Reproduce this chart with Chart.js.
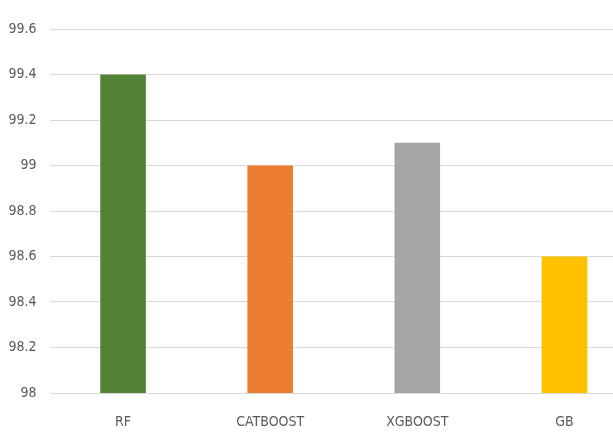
<!DOCTYPE html>
<html>
<head>
<meta charset="utf-8">
<script src="https://cdn.jsdelivr.net/npm/chart.js@4/dist/chart.umd.min.js"></script>
<style>
  html, body { margin: 0; padding: 0; background: #fff; overflow: hidden; }
  #wrap { width: 638px; height: 433px; }
</style>
</head>
<body>
<div id="wrap"><canvas id="accChart" width="638" height="433"></canvas></div>
<script>
// Data
const models = ['RF', 'CATBOOST', 'XGBOOST', 'GB'];
const accuracy = [99.4, 99.0, 99.1, 98.6];
const barColors = ['#548235', '#ED7D31', '#A5A5A5', '#FFC000'];
const yTickLabels = ['98', '98.2', '98.4', '98.6', '98.8', '99', '99.2', '99.4', '99.6'];

const labelFont = { family: "'DejaVu Sans Condensed', 'Liberation Sans', sans-serif", size: 14 };

const ctx = document.getElementById('accChart').getContext('2d');

new Chart(ctx, {
  type: 'bar',
  data: {
    labels: models,
    datasets: [{
      data: accuracy,
      backgroundColor: barColors,
      borderWidth: 0,
      barPercentage: 0.31,
      categoryPercentage: 1.0
    }]
  },
  options: {
    responsive: false,
    animation: false,
    layout: { padding: { top: 29, right: 0, left: 0, bottom: 0 } },
    plugins: {
      legend: { display: false },
      tooltip: { enabled: false }
    },
    scales: {
      x: {
        grid: { display: false },
        border: { display: false },
        ticks: { color: '#595959', font: labelFont, padding: 13 },
        afterFit: (scale) => { scale.height = 40; }
      },
      y: {
        min: 98,
        max: 99.6,
        ticks: {
          stepSize: 0.2,
          color: '#595959',
          font: labelFont,
          padding: 13,
          callback: (value, index) => yTickLabels[index]
        },
        grid: { color: '#d9d9d9', lineWidth: 1, drawTicks: false },
        border: { display: false },
        afterFit: (scale) => { scale.width = 49.5; }
      }
    }
  }
});
</script>
</body>
</html>
